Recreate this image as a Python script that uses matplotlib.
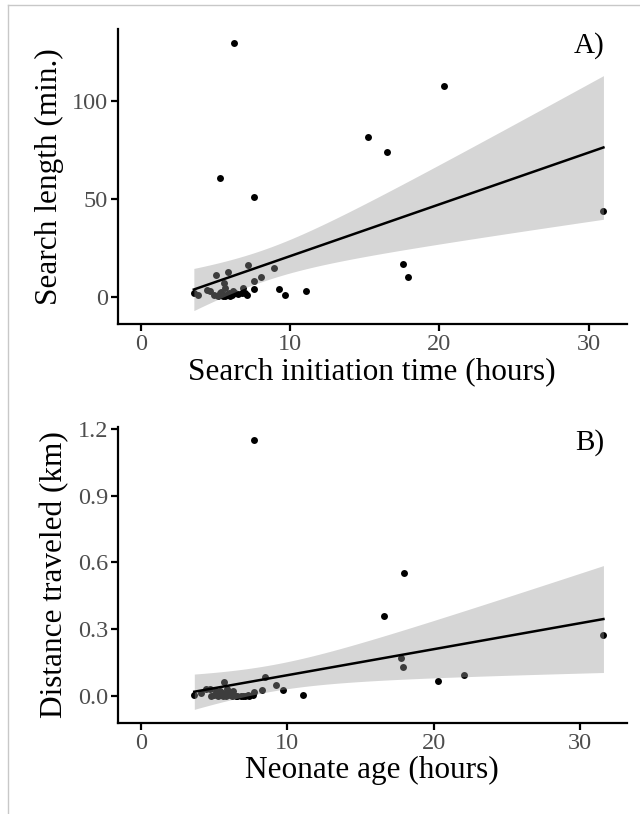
import numpy as np
import matplotlib
matplotlib.use("Agg")
import matplotlib.pyplot as plt
from matplotlib.ticker import FormatStrFormatter

# Panel A: search initiation time (h) vs search length (min)
search_time = [6.25, 15.25, 16.5, 5.3, 7.55, 20.3, 31.0, 17.55, 17.9, 11.05,
               9.65, 9.25, 7.6, 6.8, 6.95, 7.1, 3.55, 5.65, 5.8, 6.0,
               3.85, 4.4, 4.6, 5.05, 5.85, 5.55, 5.65, 7.2, 8.95, 8.05,
               7.55, 6.85, 5.3, 6.2, 5.5, 5.9, 6.5,
               5.5, 5.7, 6.0, 5.4, 6.3, 4.9, 5.2, 6.1]
search_length = [130, 82, 74, 61, 51, 108, 44, 17, 10, 3,
                 1, 4, 4, 2, 2.2, 1.2, 2, 0.3, 0.8, 1.5,
                 1, 3.5, 3, 11, 12.5, 7, 4.5, 16.5, 15, 10,
                 8, 4.7, 2, 3, 1, 2, 1.5,
                 0.5, 1, 0.5, 2.5, 2, 1, 0.5, 1]

# Panel B: neonate age (h) vs distance traveled (km)
neonate_age = [7.75, 16.6, 18.0, 31.6, 20.3, 22.1, 11.1, 9.7, 7.75, 7.65,
               6.6, 7.0, 7.3, 3.65, 17.8, 17.9, 9.25, 8.45, 8.25, 5.7,
               4.45, 4.7, 4.1, 4.8, 5.2, 5.4, 5.6, 5.9, 6.1, 6.3, 6.86, 5.0,
               5.3, 5.5, 5.8, 6.0, 6.5, 7.1, 7.4, 5.1, 5.6, 6.2]
distance = [1.15, 0.36, 0.55, 0.275, 0.065, 0.093, 0.002, 0.024, 0.018, 0.003,
            0.0, 0.0, 0.002, 0.002, 0.17, 0.13, 0.05, 0.082, 0.027, 0.06,
            0.032, 0.03, 0.012, 0.0, 0.01, 0.02, 0.0, 0.03, 0.005, 0.02, 0.0, 0.005,
            0.0, 0.01, 0.0, 0.015, 0.0, 0.0, 0.0, 0.02, 0.01, 0.0]

T_CRIT = 2.02  # t(0.975, df ~ 40)

plt.rcParams['font.family'] = ['Liberation Serif', 'DejaVu Serif']


def lm_fit(x, y):
    # linear fit with 95% confidence band (like geom_smooth(method="lm"))
    x = np.asarray(x, float)
    y = np.asarray(y, float)
    n = len(x)
    b, a = np.polyfit(x, y, 1)
    resid = y - (a + b * x)
    s = np.sqrt(np.sum(resid ** 2) / (n - 2))
    sxx = np.sum((x - x.mean()) ** 2)
    xs = np.linspace(x.min(), x.max(), 80)
    ys = a + b * xs
    se = s * np.sqrt(1.0 / n + (xs - x.mean()) ** 2 / sxx)
    return xs, ys, ys - T_CRIT * se, ys + T_CRIT * se


def panel(ax, x, y, xlabel, ylabel, tag, yticks, yfmt=None):
    xs, ys, lo, hi = lm_fit(x, y)
    ax.scatter(x, y, s=25, color='black', linewidths=0, zorder=2)
    ax.fill_between(xs, lo, hi, color='#999999', alpha=0.4, linewidth=0, zorder=3)
    ax.plot(xs, ys, color='black', lw=1.8, zorder=4)

    # ggplot-like limits: include x=0, 5% expansion
    x0, x1 = 0, max(x)
    ax.set_xlim(x0 - 0.05 * (x1 - x0), x1 + 0.05 * (x1 - x0))
    y0, y1 = min(min(y), lo.min()), max(max(y), hi.max())
    ax.set_ylim(y0 - 0.05 * (y1 - y0), y1 + 0.05 * (y1 - y0))

    ax.set_xticks([0, 10, 20, 30])
    ax.set_yticks(yticks)
    if yfmt:
        ax.yaxis.set_major_formatter(FormatStrFormatter(yfmt))
    for side in ['top', 'right']:
        ax.spines[side].set_visible(False)
    for side in ['left', 'bottom']:
        ax.spines[side].set_linewidth(1.6)
    ax.tick_params(length=5, width=1.6, labelsize=17.5, labelcolor='#4d4d4d', pad=2)
    ax.set_xlabel(xlabel, fontsize=22.5, labelpad=2)
    ax.set_ylabel(ylabel, fontsize=22.5, labelpad=6)
    ax.text(0.957, 0.99, tag, transform=ax.transAxes, ha='right', va='top', fontsize=21)


fig = plt.figure(figsize=(6.4, 8.14), dpi=100)
ax1 = fig.add_axes([0.184, 0.602, 0.795, 0.362])
ax2 = fig.add_axes([0.184, 0.112, 0.795, 0.364])

panel(ax1, search_time, search_length, 'Search initiation time (hours)',
      'Search length (min.)', 'A)', [0, 50, 100])
panel(ax2, neonate_age, distance, 'Neonate age (hours)',
      'Distance traveled (km)', 'B)', [0.0, 0.3, 0.6, 0.9, 1.2], '%.1f')

# thin frame of the original screenshot
fig.add_artist(plt.Line2D([8 / 640, 8 / 640], [0, 1 - 5 / 814], color='#c8c8c8', lw=1))
fig.add_artist(plt.Line2D([8 / 640, 1], [1 - 5 / 814, 1 - 5 / 814], color='#c8c8c8', lw=1))

fig.savefig('out.png', dpi=100)
